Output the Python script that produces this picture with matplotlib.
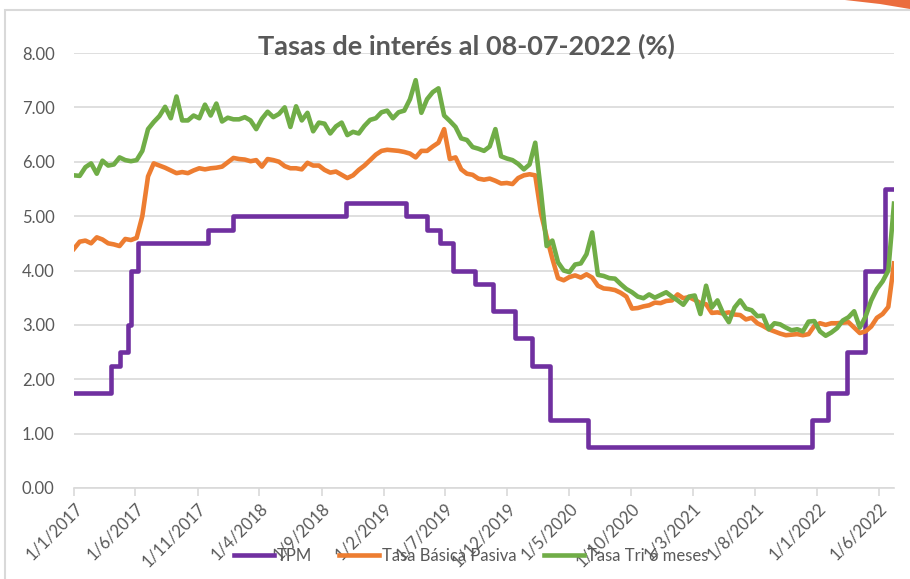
import numpy as np
import pandas as pd
import matplotlib
matplotlib.use("Agg")
import matplotlib.pyplot as plt
from matplotlib.patches import Rectangle, Polygon

plt.rcParams['font.family'] = ['Lato', 'DejaVu Sans']

# TPM steps (date of change -> new value), last entry closes the series
tpm_dates = ["2017-01-01", "2017-04-02", "2017-04-24", "2017-05-14", "2017-05-21",
             "2017-06-07", "2017-11-26", "2018-01-27", "2018-10-31", "2019-03-27",
             "2019-05-18", "2019-06-18", "2019-07-20", "2019-09-14", "2019-10-27",
             "2019-12-20", "2020-01-31", "2020-03-16", "2020-06-17", "2021-12-19",
             "2022-01-28", "2022-03-15", "2022-04-28", "2022-06-17", "2022-07-08"]
tpm_values = [1.75, 2.25, 2.50, 3.00, 4.00, 4.50, 4.75, 5.00, 5.25, 5.00,
              4.75, 4.50, 4.00, 3.75, 3.25, 2.75, 2.25, 1.25, 0.75, 1.25,
              1.75, 2.50, 4.00, 5.50, 5.50]

# biweekly readings 1/1/2017 .. 8/7/2022
sample_start = "2017-01-01"
sample_end = "2022-07-08"

tbp_values = [
  4.40, 4.53, 4.55, 4.50, 4.61, 4.57, 4.50, 4.48, 4.45, 4.58,
  4.56, 4.60, 5.00, 5.73, 5.97, 5.93, 5.89, 5.84, 5.79, 5.81,
  5.79, 5.84, 5.88, 5.86, 5.88, 5.89, 5.91, 5.99, 6.07, 6.05,
  6.04, 6.01, 6.03, 5.91, 6.05, 6.03, 6.00, 5.92, 5.88, 5.88,
  5.86, 5.98, 5.93, 5.93, 5.85, 5.80, 5.82, 5.76, 5.70, 5.75,
  5.85, 5.93, 6.03, 6.13, 6.20, 6.22, 6.21, 6.20, 6.18, 6.15,
  6.08, 6.20, 6.20, 6.28, 6.35, 6.60, 6.05, 6.08, 5.86, 5.78,
  5.76, 5.69, 5.67, 5.69, 5.65, 5.60, 5.61, 5.59, 5.70, 5.75,
  5.77, 5.75, 5.05, 4.62, 4.22, 3.86, 3.82, 3.88, 3.91, 3.87,
  3.93, 3.87, 3.72, 3.67, 3.66, 3.64, 3.59, 3.52, 3.30, 3.31,
  3.34, 3.36, 3.41, 3.40, 3.44, 3.45, 3.56, 3.49, 3.51, 3.46,
  3.40, 3.38, 3.22, 3.23, 3.21, 3.23, 3.19, 3.18, 3.10, 3.13,
  3.03, 2.98, 2.92, 2.88, 2.84, 2.81, 2.82, 2.83, 2.81, 2.83,
  2.98, 3.03, 3.00, 3.03, 3.03, 3.04, 3.05, 2.95, 2.85, 2.88,
  2.97, 3.13, 3.20, 3.33, 4.13]

tri_values = [
  5.75, 5.74, 5.90, 5.97, 5.78, 6.02, 5.93, 5.95, 6.08, 6.03,
  6.01, 6.03, 6.20, 6.60, 6.73, 6.84, 7.01, 6.80, 7.20, 6.76,
  6.76, 6.85, 6.80, 7.05, 6.85, 7.07, 6.74, 6.81, 6.78, 6.78,
  6.82, 6.76, 6.60, 6.79, 6.92, 6.82, 6.88, 7.00, 6.64, 7.02,
  6.76, 6.90, 6.56, 6.72, 6.70, 6.52, 6.65, 6.72, 6.49, 6.55,
  6.52, 6.66, 6.77, 6.80, 6.91, 6.94, 6.80, 6.91, 6.94, 7.15,
  7.50, 6.90, 7.15, 7.28, 7.35, 6.85, 6.75, 6.64, 6.43, 6.40,
  6.27, 6.24, 6.20, 6.28, 6.60, 6.10, 6.06, 6.03, 5.96, 5.86,
  5.95, 6.35, 5.45, 4.45, 4.55, 4.15, 4.00, 3.97, 4.11, 4.13,
  4.30, 4.70, 3.92, 3.90, 3.86, 3.85, 3.75, 3.66, 3.60, 3.52,
  3.49, 3.56, 3.50, 3.55, 3.60, 3.52, 3.45, 3.37, 3.52, 3.54,
  3.20, 3.72, 3.32, 3.45, 3.21, 3.05, 3.32, 3.45, 3.30, 3.27,
  3.16, 3.17, 2.92, 3.03, 3.01, 2.95, 2.90, 2.92, 2.88, 3.06,
  3.07, 2.88, 2.80, 2.86, 2.94, 3.08, 3.14, 3.25, 2.95, 3.15,
  3.45, 3.66, 3.80, 4.00, 5.23]

series_labels = ["TPM", "Tasa Básica Pasiva", "Tasa Tri 6 meses"]
series_colors = ["#7030A0", "#ED7D31", "#70AD47"]
title = "Tasas de interés al 08-07-2022 (%)"

text_gray = "#595959"
grid_gray = "#d9d9d9"

sample_dates = pd.date_range(sample_start, sample_end, periods=len(tbp_values))
tpm_x = pd.to_datetime(tpm_dates)
xticks = pd.date_range("2017-01-01", periods=14, freq="5MS")

fig = plt.figure(figsize=(9.10, 5.79), dpi=100)
ax = fig.add_axes([74 / 910, 1 - 488 / 579, 820 / 910, 435 / 579])

lw = 3.3
ax.step(tpm_x, tpm_values, where="post", color=series_colors[0], lw=lw, label=series_labels[0])
ax.plot(sample_dates, tbp_values, color=series_colors[1], lw=lw, label=series_labels[1])
ax.plot(sample_dates, tri_values, color=series_colors[2], lw=lw, label=series_labels[2])

ax.set_xlim(pd.Timestamp(sample_start), pd.Timestamp(sample_end))
ax.set_ylim(0, 8)
ax.set_yticks(np.arange(0, 9, 1))
ax.set_yticklabels([f"{v:.2f}" for v in np.arange(0, 9, 1)])
ax.set_xticks(xticks)
ax.set_xticklabels([f"{d.day}/{d.month}/{d.year}" for d in xticks],
                   rotation=45, ha="right", va="top", rotation_mode="anchor")

ax.grid(axis="y", color=grid_gray, lw=1.2)
ax.set_axisbelow(True)
for side in ["top", "right", "left"]:
  ax.spines[side].set_visible(False)
ax.spines["bottom"].set_color(grid_gray)
ax.spines["bottom"].set_linewidth(1.2)
ax.tick_params(axis="y", length=0, pad=14, labelsize=12, labelcolor=text_gray)
ax.tick_params(axis="x", length=6, width=1.2, color=grid_gray, pad=3, labelsize=12, labelcolor=text_gray)

fig.text(466 / 910, 1 - 46 / 579, title, ha="center", va="center", fontsize=19.5,
         fontweight="bold", color=text_gray)

fig.legend(loc="center", bbox_to_anchor=(471 / 910, 1 - 556 / 579), ncol=3, frameon=False,
           fontsize=12, handlelength=2.4, handletextpad=0.2, columnspacing=1.6,
           labelcolor=text_gray)

# chart area border and the slide decoration in the corner
fig.patches.append(Rectangle((5 / 910, -0.1), 1.2, 1 - 10 / 579 + 0.1, transform=fig.transFigure,
                             fill=False, edgecolor=grid_gray, lw=1.5))
fig.patches.append(Polygon([(845 / 910, 1.0), (1.0, 1.0), (1.0, 1 - 9 / 579), (880 / 910, 1 - 4 / 579)],
                           closed=True, transform=fig.transFigure, facecolor="#E8541C", edgecolor="none", alpha=0.85))

fig.savefig("out.png", dpi=100)
